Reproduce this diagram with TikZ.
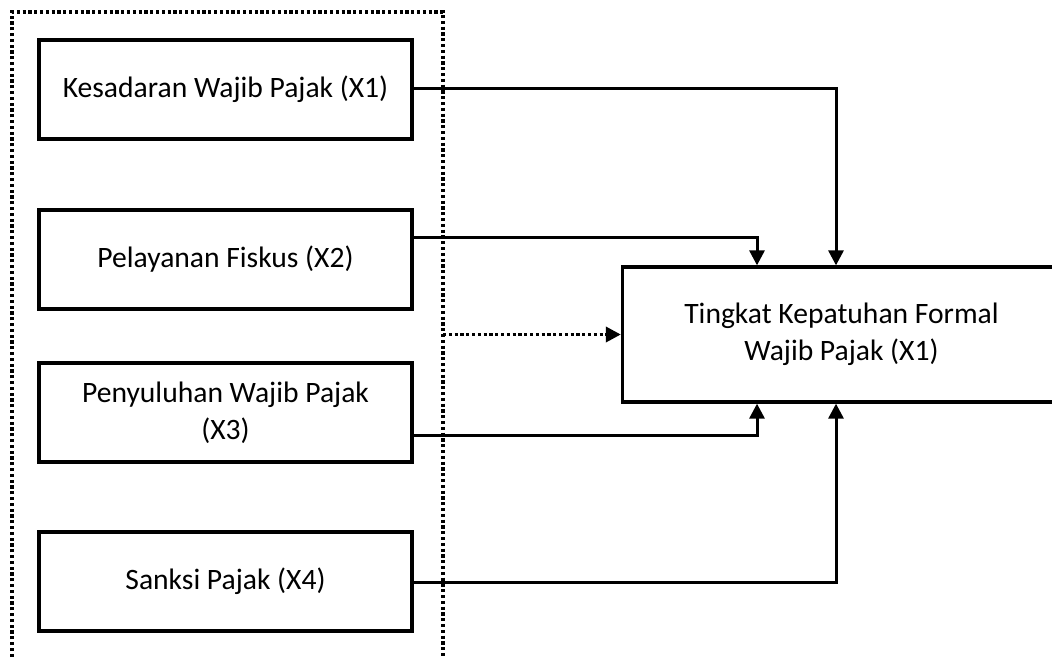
\documentclass[tikz,border=0pt]{standalone}
\usepackage{fontspec}
\setmainfont{Carlito}
\usetikzlibrary{arrows.meta}
\begin{document}
\begin{tikzpicture}[x=1pt,y=-1pt,
  varbox/.style={draw,line width=3.3pt,minimum width=373pt,minimum height=99pt,inner sep=0pt,align=center,font=\fontsize{29.6}{37}\selectfont},
  conn/.style={line width=3pt,-{Triangle[length=15pt,width=15pt]}},
  dotline/.style={line width=3.4pt,dash pattern=on 3.2pt off 2.6pt}]
\useasboundingbox (0,0) rectangle (1052,656);
\clip (0,0) rectangle (1052,656);
\draw[dotline] (12,680) -- (12,12) -- (443,12) -- (443,680);
\node[varbox] (x1) at (225.5,89.5) {Kesadaran Wajib Pajak (X1)};
\node[varbox] (x2) at (225.5,259.5) {Pelayanan Fiskus (X2)};
\node[varbox] (x3) at (225.5,412.5) {Penyuluhan Wajib Pajak\\(X3)};
\node[varbox] (x4) at (225.5,581.5) {Sanksi Pajak (X4)};
\node[varbox,minimum width=438pt,minimum height=135pt] (y) at (841.5,334.5) {Tingkat Kepatuhan Formal\\Wajib Pajak (X1)};
\coordinate (d) at (443,334.5);
\draw[conn] (x1.east |- 0,88) -| (836,0 |- y.north);
\draw[conn] (x2.east |- 0,237) -| (757,0 |- y.north);
\draw[conn] (x3.east |- 0,435) -| (757,0 |- y.south);
\draw[conn] (x4.east |- 0,582) -| (836,0 |- y.south);
\draw[dotline,-{Triangle[length=15pt,width=15pt]}] (d) -- (y.west);
\end{tikzpicture}
\end{document}
